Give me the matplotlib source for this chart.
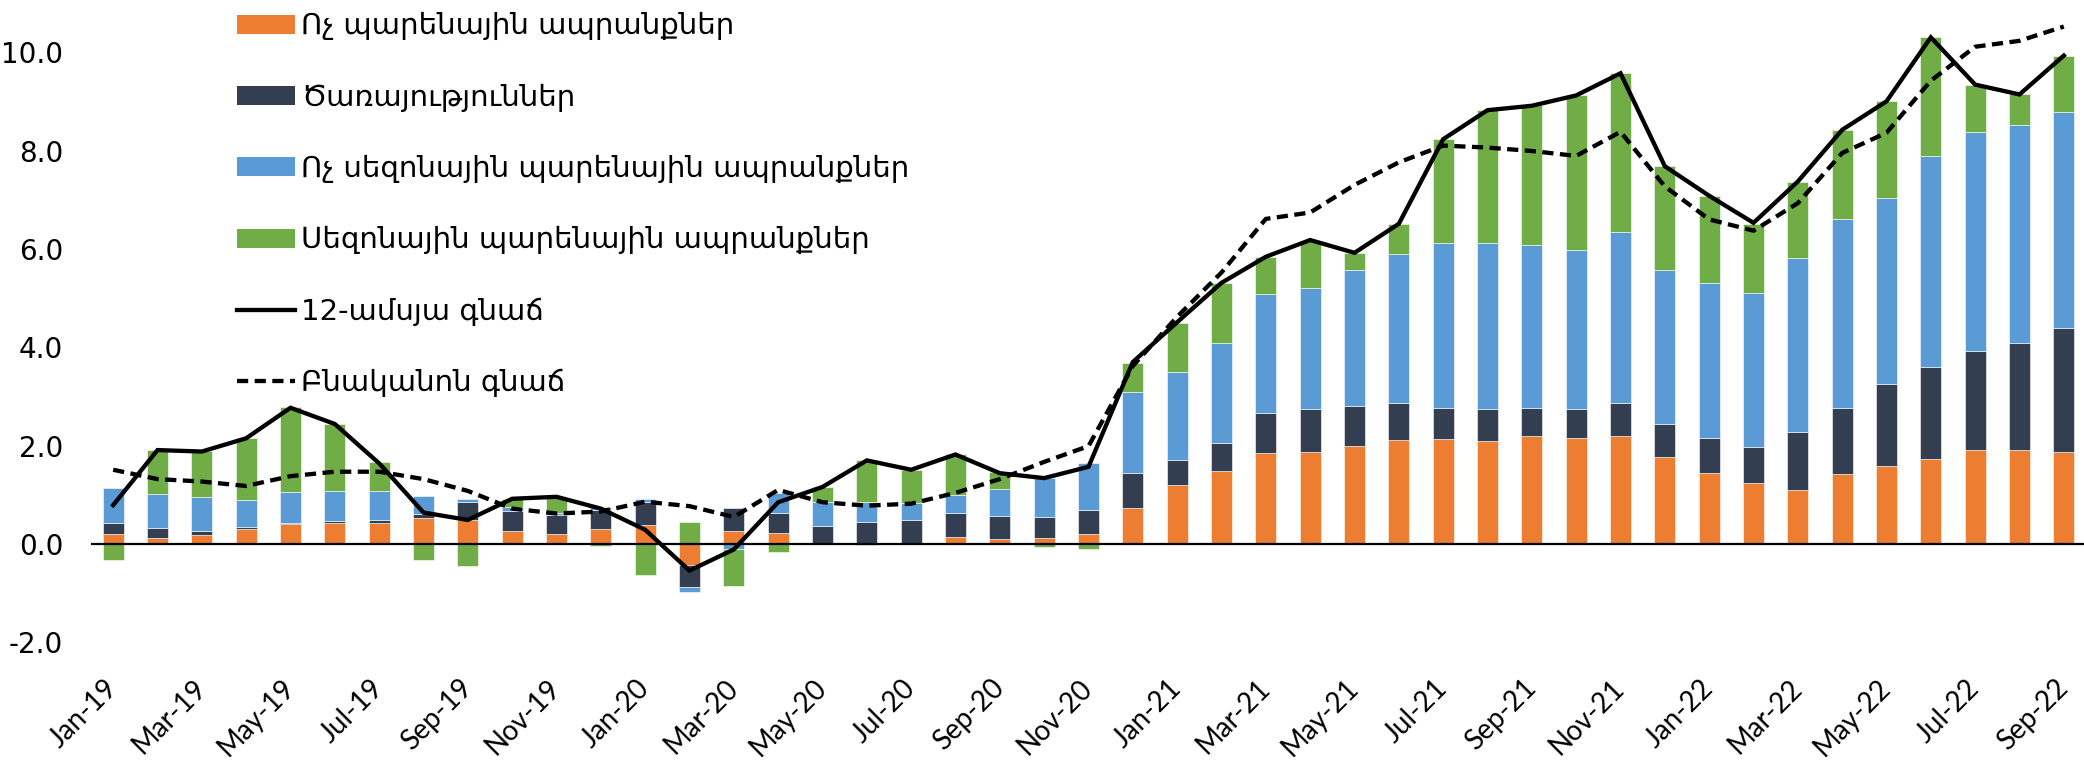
import numpy as np
import matplotlib.pyplot as plt
from matplotlib.patches import Patch
from matplotlib.lines import Line2D

# Jan-19 .. Sep-22, contributions to 12-month inflation (pp)
months = ['Jan-19', 'Feb-19', 'Mar-19', 'Apr-19', 'May-19', 'Jun-19', 'Jul-19', 'Aug-19', 'Sep-19',
          'Oct-19', 'Nov-19', 'Dec-19', 'Jan-20', 'Feb-20', 'Mar-20', 'Apr-20', 'May-20', 'Jun-20',
          'Jul-20', 'Aug-20', 'Sep-20', 'Oct-20', 'Nov-20', 'Dec-20', 'Jan-21', 'Feb-21', 'Mar-21',
          'Apr-21', 'May-21', 'Jun-21', 'Jul-21', 'Aug-21', 'Sep-21', 'Oct-21', 'Nov-21', 'Dec-21',
          'Jan-22', 'Feb-22', 'Mar-22', 'Apr-22', 'May-22', 'Jun-22', 'Jul-22', 'Aug-22', 'Sep-22']

non_food = [0.20, 0.12, 0.19, 0.31, 0.41, 0.42, 0.43, 0.53, 0.49, 0.27, 0.21, 0.31, 0.39, -0.43, 0.27,
            0.22, 0.00, -0.02, 0.00, 0.14, 0.10, 0.13, 0.21, 0.74, 1.21, 1.48, 1.86, 1.88, 2.00, 2.12,
            2.14, 2.09, 2.20, 2.16, 2.20, 1.77, 1.44, 1.25, 1.10, 1.42, 1.58, 1.73, 1.92, 1.91, 1.88]
services = [0.23, 0.21, 0.07, 0.03, 0.01, 0.04, 0.05, 0.08, 0.37, 0.41, 0.38, 0.39, 0.47, -0.45, 0.47,
            0.41, 0.37, 0.45, 0.48, 0.49, 0.47, 0.42, 0.48, 0.70, 0.49, 0.57, 0.80, 0.86, 0.81, 0.74,
            0.63, 0.65, 0.56, 0.58, 0.66, 0.68, 0.71, 0.73, 1.17, 1.34, 1.67, 1.87, 2.01, 2.17, 2.51]
food_nonseasonal = [0.71, 0.68, 0.70, 0.55, 0.64, 0.61, 0.60, 0.36, 0.05, 0.08, 0.04, 0.05, 0.05, -0.10,
                    -0.11, 0.41, 0.49, 0.40, 0.35, 0.36, 0.54, 0.80, 0.96, 1.66, 1.80, 2.04, 2.42, 2.46,
                    2.76, 3.03, 3.35, 3.37, 3.31, 3.23, 3.49, 3.12, 3.15, 3.12, 3.54, 3.84, 3.78, 4.29,
                    4.45, 4.44, 4.39]
food_seasonal = [-0.33, 0.90, 0.94, 1.27, 1.73, 1.37, 0.58, -0.33, -0.44, 0.15, 0.30, -0.04, -0.62, 0.45,
                 -0.74, -0.17, 0.29, 0.86, 0.68, 0.84, 0.35, -0.06, -0.10, 0.59, 1.00, 1.21, 0.75, 0.97,
                 0.35, 0.62, 2.11, 2.71, 2.85, 3.15, 3.22, 2.11, 1.77, 1.41, 1.56, 1.82, 1.97, 2.41,
                 0.96, 0.62, 1.15]
headline = [0.79, 1.91, 1.88, 2.15, 2.77, 2.44, 1.64, 0.64, 0.49, 0.92, 0.96, 0.72, 0.29, -0.54, -0.11,
            0.85, 1.16, 1.70, 1.51, 1.82, 1.44, 1.34, 1.57, 3.70, 4.51, 5.31, 5.84, 6.18, 5.92, 6.51,
            8.23, 8.82, 8.91, 9.12, 9.57, 7.68, 7.08, 6.53, 7.37, 8.42, 9.00, 10.30, 9.34, 9.14, 9.93]
core = [1.51, 1.32, 1.27, 1.18, 1.38, 1.47, 1.47, 1.32, 1.08, 0.72, 0.62, 0.66, 0.86, 0.77, 0.55,
        1.10, 0.85, 0.78, 0.82, 1.04, 1.32, 1.67, 1.99, 3.62, 4.62, 5.52, 6.61, 6.74, 7.30, 7.76,
        8.10, 8.06, 7.99, 7.89, 8.38, 7.27, 6.60, 6.37, 6.93, 7.95, 8.36, 9.42, 10.11, 10.23, 10.52]

labels = ['Ոչ պարենային ապրանքներ', 'Ծառայություններ',
          'Ոչ սեզոնային պարենային ապրանքներ', 'Սեզոնային պարենային ապրանքներ']
line_labels = ['12-ամսյա գնաճ', 'Բնականոն գնաճ']
colors = ['#ED7D31', '#333F50', '#5B9BD5', '#70AD47']

fig = plt.figure(figsize=(20.84, 7.6), dpi=100)
ax = fig.add_axes([91 / 2084, (760 - 642.4) / 760, (2086 - 91) / 2084, 642.4 / 760])

x = np.arange(len(months))
pos_bottom = np.zeros(len(x))
neg_bottom = np.zeros(len(x))
for series, col in zip([non_food, services, food_nonseasonal, food_seasonal], colors):
    v = np.array(series)
    bottom = np.where(v >= 0, pos_bottom, neg_bottom)
    ax.bar(x, v, width=0.47, bottom=bottom, color=col, edgecolor='white', linewidth=0.4, zorder=2)
    pos_bottom += np.where(v >= 0, v, 0)
    neg_bottom += np.where(v < 0, v, 0)

ax.axhline(0, color='black', lw=1.6, zorder=3)
ax.plot(x, headline, color='black', lw=3.1, zorder=4, solid_joinstyle='miter')
ax.plot(x, core, color='black', lw=3.1, ls=(0, (2.6, 1.5)), zorder=4)

ax.set_xlim(-0.5, 44.5)
ax.set_ylim(-2, 11.06)
ax.set_yticks([-2, 0, 2, 4, 6, 8, 10])
ax.set_yticklabels([f'{t:.1f}' for t in [-2, 0, 2, 4, 6, 8, 10]], fontsize=20, family='DejaVu Sans')
ax.tick_params(axis='y', length=0, pad=20)

ax.set_xticks(x[::2])
ax.set_xticklabels(months[::2], rotation=45, ha='right', va='center', rotation_mode='anchor',
                   fontsize=20, family='Lato')
ax.tick_params(axis='x', length=0, pad=30)

for s in ax.spines.values():
    s.set_visible(False)

handles = [Patch(facecolor=c) for c in colors]
handles += [Line2D([], [], color='black', lw=3.1),
            Line2D([], [], color='black', lw=3.1, ls=(0, (2.6, 1.5)))]
ax.legend(handles, labels + line_labels, loc='upper left', bbox_to_anchor=(237 / 2084, 0.984),
          bbox_transform=fig.transFigure, frameon=False, borderpad=0,
          borderaxespad=0, handlelength=2.0, handleheight=0.62, handletextpad=0.2,
          labelspacing=1.48, prop={'family': 'DejaVu Sans', 'size': 21})

fig.savefig('out.png', dpi=100)
